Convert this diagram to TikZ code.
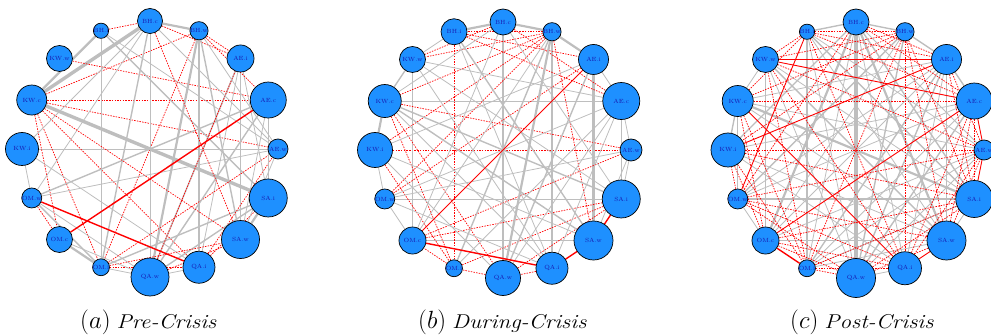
\documentclass[tikz,border=0pt]{standalone}
\usetikzlibrary{backgrounds,calc}
\definecolor{nodeblue}{HTML}{1E90FF}
\definecolor{edgegray}{HTML}{BEBEBE}
\definecolor{labblue}{HTML}{1818B0}
\tikzset{
  vtx/.style={circle,draw=black,line width=0.7pt,fill=nodeblue,inner sep=0pt,text=labblue,font=\fontsize{6}{6.5}\selectfont},
  ge/.style={draw=edgegray,line width=0.8pt},
  gm/.style={draw=edgegray,line width=1.4pt},
  gt/.style={draw=edgegray,line width=2.2pt},
  gx/.style={draw=edgegray,line width=3.4pt},
  rd/.style={draw=red,line width=0.7pt,dash pattern=on 1.5pt off 1.2pt},
  rs/.style={draw=red,line width=0.9pt},
  rS/.style={draw=red,line width=1.4pt},
  captext/.style={inner sep=0pt,anchor=base west}
}
\newcommand{\mycap}[2]{{\fontsize{27}{30}\selectfont$(#1)$}\hspace{6pt}\scalebox{1.15}[1]{\fontsize{20}{24}\selectfont\itshape #2}}
\begin{document}
\begin{tikzpicture}[x=1pt,y=1pt]
\useasboundingbox (0,0) rectangle (991,335);
% ---------- panel a ----------
\foreach \nm/\lab/\ang/\r in {BHc/BH.c/90/12.5, BHw/BH.w/67.5/6.5, AEi/AE.i/45/13.5, AEc/AE.c/22.5/18, AEw/AE.w/0/10, SAi/SA.i/-22.5/19, SAw/SA.w/-45/19, QAi/QA.i/-67.5/16, QAw/QA.w/-90/19, OMi/OM.i/-112.5/7.5, OMc/OM.c/-135/13, OMw/OM.w/-157.5/10, KWi/KW.i/180/16.5, KWc/KW.c/157.5/15, KWw/KW.w/135/13, BHi/BH.i/112.5/5}
  \node[vtx,minimum size=2*\r] (a\nm) at ($(150,186)+(\ang:128)$) {\lab};
% ---------- panel b ----------
\foreach \nm/\lab/\ang/\r in {BHc/BH.c/90/13, BHw/BH.w/67.5/6.5, AEi/AE.i/45/15, AEc/AE.c/22.5/18.5, AEw/AE.w/0/11, SAi/SA.i/-22.5/19, SAw/SA.w/-45/19.5, QAi/QA.i/-67.5/16, QAw/QA.w/-90/17.5, OMi/OM.i/-112.5/7.5, OMc/OM.c/-135/13.5, OMw/OM.w/-157.5/10, KWi/KW.i/180/17.5, KWc/KW.c/157.5/16.5, KWw/KW.w/135/13, BHi/BH.i/112.5/13}
  \node[vtx,minimum size=2*\r] (b\nm) at ($(503,185)+(\ang:128)$) {\lab};
% ---------- panel c ----------
\foreach \nm/\lab/\ang/\r in {BHc/BH.c/90/13, BHw/BH.w/67.5/6.5, AEi/AE.i/45/15, AEc/AE.c/22.5/18, AEw/AE.w/0/10, SAi/SA.i/-22.5/18.5, SAw/SA.w/-45/19.5, QAi/QA.i/-67.5/16.5, QAw/QA.w/-90/19.5, OMi/OM.i/-112.5/7.5, OMc/OM.c/-135/13.5, OMw/OM.w/-157.5/10, KWi/KW.i/180/17, KWc/KW.c/157.5/15.5, KWw/KW.w/135/13, BHi/BH.i/112.5/5.5}
  \node[vtx,minimum size=2*\r] (c\nm) at ($(856,185)+(\ang:128)$) {\lab};
\begin{scope}[on background layer]
\foreach \u/\v/\s in {BHc/BHw/gt, BHc/KWc/gx, BHi/KWc/gt, KWc/SAi/gx, KWi/AEw/ge, KWc/AEc/rd, KWw/AEc/rd, KWc/BHw/rd, KWc/AEw/rd, KWc/OMi/rd, KWc/QAi/rd, KWc/OMc/rd, BHi/BHc/rd, BHc/AEi/rd, BHw/AEi/rd, BHw/OMi/rd, AEi/SAw/gm, AEi/QAi/ge, AEi/QAw/gm, BHw/QAw/gt, BHw/QAi/gm, BHw/SAw/gm, BHi/OMi/ge, BHc/QAw/ge, BHc/OMi/gm, BHc/OMw/ge, BHi/SAi/gm, BHi/AEw/ge, KWi/OMw/ge, KWi/QAi/ge, KWi/BHc/ge, OMw/AEc/gm, OMw/AEw/ge, OMw/OMi/gm, OMw/QAw/ge, OMw/OMc/rd, OMc/OMi/gt, OMi/QAw/ge, QAw/QAi/ge, OMi/SAi/gm, OMi/AEw/rd, OMi/QAi/rd, QAw/AEc/gm, QAw/AEi/rd, QAi/AEw/rd, QAi/SAi/rd, SAw/SAi/gt, SAi/AEi/ge, SAi/AEc/ge, QAw/SAi/gm, BHc/SAw/rd, AEc/SAw/ge, AEw/SAw/ge, BHw/AEw/ge, BHc/AEw/ge, OMi/SAw/rd, QAw/SAw/rd, OMc/QAw/ge, KWc/SAw/rd, BHw/AEc/rd, OMw/QAi/rS, OMc/AEc/rS}
  \draw[style=\s] (a\u) -- (a\v);
\foreach \u/\v/\s in {BHi/BHc/gt, BHc/BHw/gt, BHw/AEi/gt, AEi/AEc/ge, AEc/AEw/ge, AEw/SAi/ge, QAi/QAw/rd, QAw/OMi/rd, OMi/OMc/rd, OMc/OMw/ge, OMw/KWi/ge, KWi/KWc/gt, KWc/KWw/gm, KWw/BHi/ge, KWi/AEw/rd, KWc/AEc/ge, OMw/SAi/ge, OMc/SAw/ge, BHi/OMi/rd, BHc/QAw/gm, BHw/QAi/gm, AEi/SAw/gt, KWw/OMc/ge, BHw/KWw/rd, BHw/KWc/rd, BHw/KWi/rd, BHw/OMw/rd, BHw/BHi/rd, BHc/KWw/rd, BHi/AEi/rd, BHi/AEc/rd, BHc/AEc/rd, BHw/SAw/rd, KWc/OMi/rd, KWc/QAw/rd, KWc/AEw/rd, KWi/OMi/rd, OMc/SAi/rd, OMw/AEi/rd, OMi/SAi/rd, QAw/SAi/rd, OMc/AEw/rd, BHi/SAw/gm, BHi/QAi/ge, BHc/OMc/ge, BHc/SAi/ge, BHw/OMi/gm, BHw/QAw/gt, KWw/SAi/ge, KWw/QAi/ge, KWc/SAw/gm, KWc/QAi/ge, KWi/AEi/ge, KWi/SAw/ge, OMw/AEc/ge, OMw/AEw/ge, OMi/AEc/ge, QAw/AEi/gm, QAw/AEc/ge, QAi/AEc/ge, OMc/BHw/ge, KWi/QAw/ge, SAw/AEw/ge, SAi/AEc/ge, KWc/SAi/gm, BHc/KWc/ge, OMw/QAi/ge, KWw/AEc/ge, SAi/SAw/rS, SAw/QAi/rS, OMc/QAi/rS, OMc/AEi/rs}
  \draw[style=\s] (b\u) -- (b\v);
\foreach \u/\v/\s in {BHi/BHc/gm, BHc/BHw/gm, BHw/AEi/gm, AEi/AEc/gm, SAi/SAw/ge, QAi/QAw/ge, QAw/OMi/rd, OMc/OMw/ge, OMw/KWi/rd, KWi/KWc/gm, KWc/KWw/ge, KWw/BHi/rd, BHc/QAw/gx, BHi/OMi/gt, BHc/SAw/gt, BHc/OMc/gt, BHc/KWi/gm, BHw/OMw/gm, BHw/OMc/ge, BHw/QAw/gm, BHi/SAi/gm, BHi/SAw/ge, KWc/SAi/gt, OMw/SAi/gm, OMc/SAw/ge, KWw/SAw/gm, KWw/QAw/ge, KWc/AEw/ge, AEi/OMi/gm, AEi/QAw/gm, AEi/QAi/ge, AEc/OMi/ge, AEc/QAw/gm, AEw/OMc/ge, AEw/QAw/ge, SAi/OMi/ge, KWi/SAw/ge, KWi/QAi/ge, OMw/AEc/ge, KWw/SAi/ge, KWc/SAw/ge, BHc/AEw/ge, BHi/AEw/ge, OMi/SAw/ge, KWc/AEi/ge, KWi/AEc/ge, OMw/AEi/ge, OMi/AEw/ge, BHc/QAi/ge, BHi/QAw/ge, BHc/OMi/ge, BHc/SAi/gm, OMc/AEi/ge, KWw/OMc/ge, KWc/OMw/ge, AEi/SAw/ge, KWi/AEw/rd, BHi/AEi/rd, BHi/AEc/rd, BHi/QAi/rd, BHi/KWc/rd, BHw/KWw/rd, BHw/KWc/rd, BHw/KWi/rd, BHw/OMi/rd, BHw/SAi/rd, BHw/SAw/rd, BHw/QAi/rd, BHc/AEi/rd, BHc/AEc/rd, BHc/OMw/rd, KWc/AEc/rd, KWc/OMi/rd, KWc/OMc/rd, KWi/OMi/rd, KWi/OMc/rd, KWi/SAi/rd, OMw/QAi/rd, OMw/QAw/rd, OMw/AEw/rd, OMw/SAw/rd, OMc/QAw/rd, OMc/QAi/rd, OMc/SAi/rd, OMi/SAi/rd, OMi/QAi/rd, QAw/SAw/rd, QAw/SAi/rd, QAi/AEc/rd, QAi/AEw/rd, SAw/AEw/rd, SAw/AEc/rd, SAi/AEc/rd, AEi/AEw/rd, AEi/SAi/rd, KWw/OMi/rd, KWw/QAi/rd, KWw/AEw/rd, BHi/BHw/rd, AEc/AEw/rs, AEw/SAi/rs, SAw/QAi/rs, OMi/OMc/rS, KWw/AEi/rs, KWw/AEc/rs, KWi/AEi/rs, OMc/AEc/rs, KWc/QAi/rs, BHi/OMw/rs}
  \draw[style=\s] (c\u) -- (c\v);
\end{scope}
% ---------- captions ----------
\node[captext] (capa) at (80,7) {\mycap{a}{Pre-Crisis}};
\node[captext] (capb) at (418,7) {\mycap{b}{During-Crisis}};
\node[captext] (capc) at (790,7) {\mycap{c}{Post-Crisis}};
\end{tikzpicture}
\end{document}
